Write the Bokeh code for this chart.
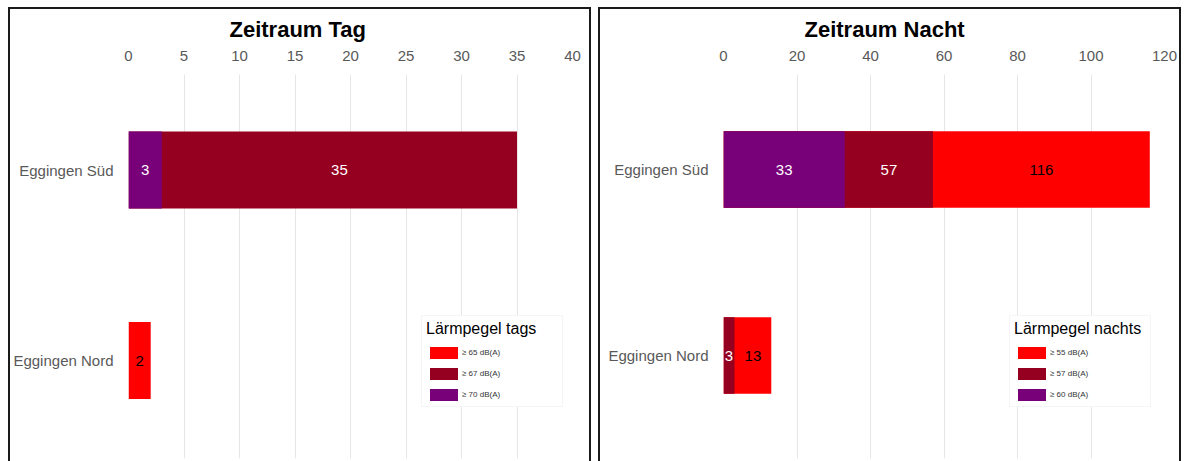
from bokeh.plotting import figure
from bokeh.layouts import row
from bokeh.models import Range1d, FixedTicker, Legend, LegendItem
from bokeh.embed import file_html
from bokeh.resources import INLINE
from bokeh.core.properties import value

categories = ["Eggingen Nord", "Eggingen Süd"]

# Zeitraum Tag (counts per threshold)
tag_levels = ["≥ 65 dB(A)", "≥ 67 dB(A)", "≥ 70 dB(A)"]
tag_65 = [2, 0]      # Süd value not shown in the chart
tag_67 = [0, 35]
tag_70 = [0, 3]
tag_ticks = [0, 5, 10, 15, 20, 25, 30, 35, 40]

# Zeitraum Nacht
nacht_levels = ["≥ 55 dB(A)", "≥ 57 dB(A)", "≥ 60 dB(A)"]
nacht_55 = [13, 116]
nacht_57 = [3, 57]
nacht_60 = [0, 33]
nacht_ticks = [0, 20, 40, 60, 80, 100, 120]

colors = ["#FF0000", "#960020", "#780078"]
label_colors = ["black", "white", "white"]

FONT = "Liberation Sans"
GRAY = "#595959"


def make_panel(title, title_offset, levels, series, ticks, y_start, y_end, bar_h,
               border_left, border_right, legend_title, legend_loc, margin):
    xmax = ticks[-1]
    p = figure(width=579, height=452, output_backend="svg", toolbar_location=None,
               x_range=Range1d(0, xmax), y_range=Range1d(y_start, y_end),
               x_axis_location="above", title=title,
               min_border_left=border_left, min_border_right=border_right,
               min_border_top=62, min_border_bottom=3,
               outline_line_color=None, background_fill_color="white",
               border_fill_color="white")
    p.margin = margin
    p.styles = {"outline": "2px solid #1a1a1a"}

    p.title.text_font = FONT
    p.title.text_font_size = "22px"
    p.title.text_font_style = "bold"
    p.title.text_color = "black"
    p.title.align = "left"
    p.title.offset = title_offset
    p.title.standoff = 11

    ypos = list(range(len(categories)))
    renderers = []
    for i, vals in enumerate(series):
        r = p.hbar(y=ypos, left=0, right=vals, height=bar_h,
                   fill_color=colors[i], line_color=None)
        renderers.append(r)

    # data labels at the middle of each visible segment
    xs, ys, texts, tcols = [], [], [], []
    for j in ypos:
        for i, vals in enumerate(series):
            v = vals[j]
            if v <= 0:
                continue
            lower = max([series[k][j] for k in range(i + 1, len(series))] + [0])
            xs.append((lower + v) / 2)
            ys.append(j)
            texts.append(str(v))
            tcols.append(label_colors[i])
    p.text(x=xs, y=ys, text=texts, text_color=tcols, text_align="center",
           text_baseline="middle", text_font=value(FONT), text_font_size="15px")

    xa = p.xaxis[0]
    xa.ticker = FixedTicker(ticks=ticks)
    xa.axis_line_color = None
    xa.major_tick_line_color = None
    xa.minor_tick_line_color = None
    xa.major_label_text_font = FONT
    xa.major_label_text_font_size = "15px"
    xa.major_label_text_color = GRAY
    xa.major_label_standoff = 8

    ya = p.yaxis[0]
    ya.ticker = FixedTicker(ticks=ypos)
    ya.major_label_overrides = {j: categories[j] for j in ypos}
    ya.axis_line_color = None
    ya.major_tick_line_color = None
    ya.minor_tick_line_color = None
    ya.major_label_text_font = FONT
    ya.major_label_text_font_size = "15px"
    ya.major_label_text_color = GRAY
    ya.major_label_standoff = 9

    p.xgrid.ticker = FixedTicker(ticks=ticks)
    p.xgrid.grid_line_color = "#e6e6e6"
    p.ygrid.visible = False

    items = [LegendItem(label=levels[i], renderers=[renderers[i]]) for i in range(len(levels))]
    legend = Legend(items=items, location=legend_loc, title=legend_title,
                    title_text_font=FONT, title_text_font_size="16px",
                    title_text_font_style="normal", title_text_color="black",
                    title_standoff=7,
                    label_text_font=FONT, label_text_font_size="8px",
                    label_text_color="#333333",
                    glyph_width=35, glyph_height=15, label_height=15,
                    spacing=6, padding=4, label_standoff=1, label_width=96,
                    border_line_color="#ebebeb", background_fill_color="white",
                    background_fill_alpha=1.0, margin=0)
    p.add_layout(legend)
    return p


p1 = make_panel("Zeitraum Tag", 101, tag_levels, [tag_65, tag_67, tag_70], tag_ticks,
                -98 / 190.5, 1 + 95.5 / 190.5, 0.404, 118, 17,
                "Lärmpegel tags", (293, 51), (9, 0, 0, 10))
p2 = make_panel("Zeitraum Nacht", 81, nacht_levels, [nacht_55, nacht_57, nacht_60], nacht_ticks,
                -103 / 186, 1 + 95 / 186, 0.41, 123, 15,
                "Lärmpegel nachts", (286, 51), (9, 0, 0, 11))

layout = row(p1, p2)
open("out.html", "w").write(file_html(layout, INLINE))
